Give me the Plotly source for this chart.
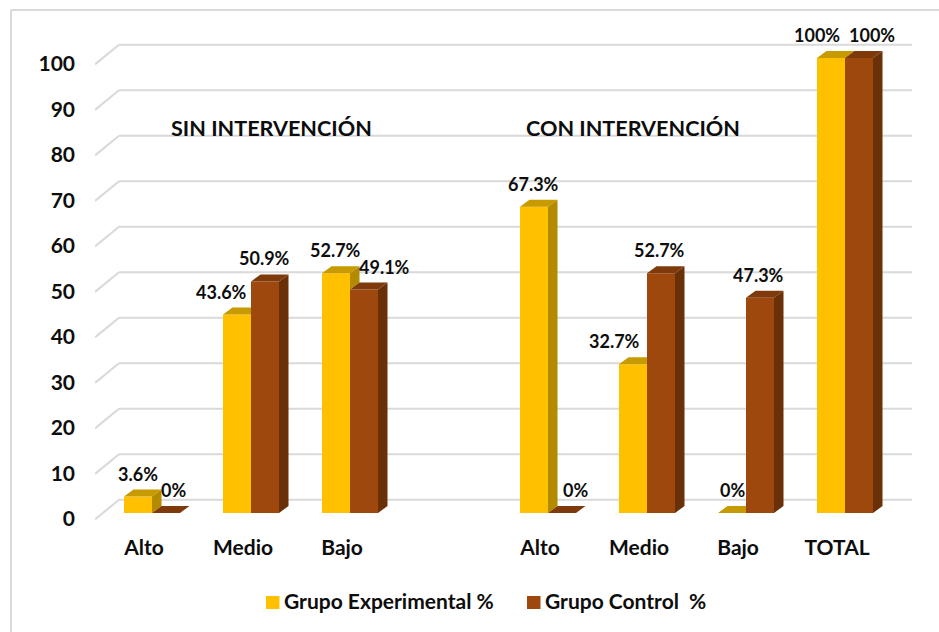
import plotly.graph_objects as go

CATEGORIES = ["Alto", "Medio", "Bajo", "", "Alto", "Medio", "Bajo", "TOTAL"]
EXPERIMENTAL = [3.6, 43.6, 52.7, None, 67.3, 32.7, 0, 100]
CONTROL = [0, 50.9, 49.1, None, 0, 52.7, 47.3, 100]
EXPERIMENTAL_LABELS = ["3.6%", "43.6%", "52.7%", "", "67.3%", "32.7%", "0%", "100%"]
CONTROL_LABELS = ["0%", "50.9%", "49.1%", "", "0%", "52.7%", "47.3%", "100%"]
Y_TICKS = [0, 10, 20, 30, 40, 50, 60, 70, 80, 90, 100]
SERIES_NAMES = ["Grupo Experimental %", "Grupo Control  %"]

YELLOW, YELLOW_TOP, YELLOW_SIDE = "#ffc000", "#c79a00", "#b38a00"
BROWN, BROWN_TOP, BROWN_SIDE = "#9e480e", "#7f3a0b", "#6a3008"
GRID = "#d9d9d9"
FONT = dict(family="Lato", size=18, color="#0d0d0d", weight=700)
AXIS_FONT = dict(FONT, size=21)

# pixel geometry of the plot
PX_X0, PX_DX = 152, 99
PX_Y0, PX_DY = 513, 4.55
LEFT, RIGHT, TOP, BOTTOM = 95, 912, 30, 525

BAR_W = 28 / PX_DX
DEPTH_X = 9.5 / PX_DX
DEPTH_Y = 7 / PX_DY
FLOOR_X = 24 / PX_DX
FRONT_Y = -1.4
BACK_Y = 2.9

# label nudges in px, the original chart had them moved by hand
EXP_SHIFT = [0, -16, -1, 0, -1, -19, 0, -14]
CTRL_SHIFT = [7, -1, 20, 0, 13, -2, -2, 13]

positions = list(range(len(CATEGORIES)))
x_min = (LEFT - PX_X0) / PX_DX
x_max = (RIGHT - PX_X0) / PX_DX
y_min = (PX_Y0 - BOTTOM) / PX_DY
y_max = (PX_Y0 - TOP) / PX_DY


def paper_x(px):
    return (px - LEFT) / (RIGHT - LEFT)


def paper_y(px):
    return (BOTTOM - px) / (BOTTOM - TOP)


def face(xs, ys, color):
    return go.Scatter(
        x=xs, y=ys, mode="lines", fill="toself", fillcolor=color,
        line=dict(width=0), hoverinfo="skip", showlegend=False, cliponaxis=False,
    )


fig = go.Figure()
fig.add_trace(go.Bar(x=positions, y=EXPERIMENTAL, name=SERIES_NAMES[0], marker=dict(color=YELLOW, line=dict(width=0))))
fig.add_trace(go.Bar(x=positions, y=CONTROL, name=SERIES_NAMES[1], marker=dict(color=BROWN, line=dict(width=0))))

for p, e, c in zip(positions, EXPERIMENTAL, CONTROL):
    if e is None:
        continue
    # yellow top stops at the brown front when the brown bar is taller
    right = p if c > e + DEPTH_Y else p + DEPTH_X
    fig.add_trace(face(
        [p - BAR_W, p, right, p - BAR_W + DEPTH_X, p - BAR_W],
        [e, e, e + DEPTH_Y, e + DEPTH_Y, e],
        YELLOW_TOP,
    ))
    if e > c:
        fig.add_trace(face(
            [p, p + DEPTH_X, p + DEPTH_X, p, p],
            [e, e + DEPTH_Y, c + DEPTH_Y, c, e],
            YELLOW_SIDE,
        ))
    fig.add_trace(face(
        [p, p + BAR_W, p + BAR_W + DEPTH_X, p + DEPTH_X, p],
        [c, c, c + DEPTH_Y, c + DEPTH_Y, c],
        BROWN_TOP,
    ))
    if c > 0:
        fig.add_trace(face(
            [p + BAR_W, p + BAR_W + DEPTH_X, p + BAR_W + DEPTH_X, p + BAR_W, p + BAR_W],
            [c, c + DEPTH_Y, DEPTH_Y, 0, c],
            BROWN_SIDE,
        ))

# gridlines of the fake 3d wall, behind the bars
for v in Y_TICKS:
    fig.add_shape(type="line", x0=x_min, x1=x_min + FLOOR_X, y0=v + FRONT_Y, y1=v + BACK_Y,
                  line=dict(color=GRID, width=2), layer="below")
    fig.add_shape(type="line", x0=x_min + FLOOR_X, x1=x_max, y0=v + BACK_Y, y1=v + BACK_Y,
                  line=dict(color=GRID, width=2), layer="below")

for p, e, c, el, cl, es, cs in zip(positions, EXPERIMENTAL, CONTROL, EXPERIMENTAL_LABELS, CONTROL_LABELS, EXP_SHIFT, CTRL_SHIFT):
    if e is None:
        continue
    fig.add_annotation(x=p - BAR_W / 2, y=e, text=el, showarrow=False, xshift=es, yshift=23, font=FONT)
    fig.add_annotation(x=p + BAR_W / 2, y=c, text=cl, showarrow=False, xshift=cs, yshift=23, font=FONT)

for text, px in [("SIN INTERVENCIÓN", 271), ("CON INTERVENCIÓN", 633)]:
    fig.add_annotation(xref="paper", yref="paper", x=paper_x(px), y=paper_y(128), xanchor="center", yanchor="middle",
                       text=text, showarrow=False, font=dict(FONT, size=21.6))

# legend built by hand, plotly's swatch gap is wider than the original
for name, color, px in zip(SERIES_NAMES, [YELLOW, BROWN], [266, 527]):
    fig.add_shape(type="rect", xref="paper", yref="paper", x0=paper_x(px), x1=paper_x(px + 13.5),
                  y0=paper_y(609), y1=paper_y(596), fillcolor=color, line=dict(width=0))
    fig.add_annotation(xref="paper", yref="paper", x=paper_x(px + 16), y=paper_y(600.5), xanchor="left", yanchor="middle",
                       text=name.replace("  ", "&nbsp; "), showarrow=False, font=AXIS_FONT)

# outer chart frame, only top and left show in the crop
fig.add_shape(type="line", xref="paper", yref="paper", x0=paper_x(11), x1=paper_x(939), y0=paper_y(10), y1=paper_y(10),
              line=dict(color=GRID, width=2), layer="below")
fig.add_shape(type="line", xref="paper", yref="paper", x0=paper_x(11), x1=paper_x(11), y0=paper_y(10), y1=paper_y(632),
              line=dict(color=GRID, width=2), layer="below")

fig.update_layout(
    width=939, height=632,
    margin=dict(l=LEFT, r=939 - RIGHT, t=TOP, b=632 - BOTTOM),
    paper_bgcolor="white", plot_bgcolor="white",
    barmode="group", bargap=1 - 2 * BAR_W, bargroupgap=0,
    font=FONT, showlegend=False,
)
fig.update_xaxes(
    range=[x_min, x_max], tickmode="array",
    tickvals=[p - 0.08 for p in positions], ticktext=CATEGORIES,
    showgrid=False, zeroline=False, showline=False, ticks="", ticklabelstandoff=8,
    tickfont=AXIS_FONT, automargin=False,
)
fig.update_yaxes(
    range=[y_min, y_max], tickmode="array",
    tickvals=[v - 1.3 for v in Y_TICKS], ticktext=[str(v) for v in Y_TICKS],
    showgrid=False, zeroline=False, showline=False, ticks="", ticklabelstandoff=19,
    tickfont=AXIS_FONT, automargin=False,
)

fig.write_html("out.html", post_script="document.body.style.margin='0';", config=dict(displayModeBar=False))
